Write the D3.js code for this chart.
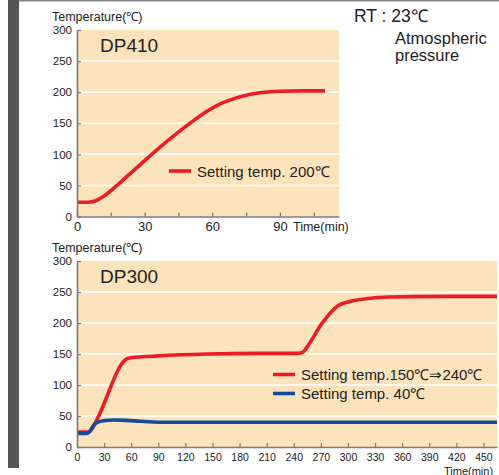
<!DOCTYPE html>
<html>
<head>
<meta charset="utf-8">
<script src="https://cdnjs.cloudflare.com/ajax/libs/d3/7.8.5/d3.min.js"></script>
<style>
  body { margin: 0; background: #fff; }
  svg { display: block; font-family: "Liberation Sans", Arial, sans-serif; }
  .tick line { stroke: #7a7a7a; stroke-width: 1.2; }
  .domain { stroke: #7a7a7a; stroke-width: 1.6; }
  .tick text { fill: #222; }
  .lbl { fill: #222; }
</style>
</head>
<body>
<script>
// DP410 – one run, setting 200 ℃
var time410 = [0, 5, 8, 12, 18, 30, 43, 52, 58, 64, 70, 76, 82, 90, 100, 110];
var temp410 = [23, 23, 25, 33, 51, 90, 130, 155, 170, 182, 190, 196, 199.5, 201.5, 202, 202];

// DP300 – red: 150 ℃ then 240 ℃, blue: 40 ℃
var timeRed = [0, 13, 16, 22, 55, 60, 90, 145, 200, 245, 250, 255, 271, 289, 300, 320, 345, 400, 465];
var tempRed = [24, 24, 28, 44, 142, 144, 147, 150, 151, 151, 153, 162, 199, 228, 234, 239, 242, 243, 243];
var timeBlue = [0, 11, 14, 18, 23, 30, 40, 55, 70, 90, 150, 465];
var tempBlue = [22, 22, 25, 34, 40, 42.5, 43.5, 43, 41.5, 40, 40, 40];

var yTicks = [0, 50, 100, 150, 200, 250, 300];
var xTicks410 = [0, 15, 30, 45, 60, 75, 90, 105];
var xTicks300 = [0, 30, 60, 90, 120, 150, 180, 210, 240, 270, 300, 330, 360, 390, 420, 450];

var legend410 = ["Setting temp. 200℃"];
var legend300 = ["Setting temp.150℃⇒240℃", "Setting temp. 40℃"];

var RED = "#ec1c24", BLUE = "#154a9a", BG = "#fde3bc";

var svg = d3.select("body").append("svg")
    .attr("width", 499)
    .attr("height", 475);

// frame bits
svg.append("rect").attr("x", 8).attr("y", 0).attr("width", 11).attr("height", 468).attr("fill", "#555");
svg.append("rect").attr("x", 19).attr("y", 0).attr("width", 480).attr("height", 1.5).attr("fill", "#888");

svg.append("text").attr("class", "lbl").attr("x", 354).attr("y", 22)
    .style("font-size", "17.5px").text("RT : 23℃");
svg.append("text").attr("class", "lbl").attr("x", 395).attr("y", 44)
    .style("font-size", "16.5px").text("Atmospheric");
svg.append("text").attr("class", "lbl").attr("x", 395).attr("y", 61)
    .style("font-size", "16.5px").text("pressure");

function drawPanel(opt) {
    var x = d3.scaleLinear().domain(opt.xDomain).range([opt.left, opt.right]);
    var y = d3.scaleLinear().domain([0, 300]).range([opt.bottom, opt.top]);
    var g = svg.append("g");

    g.append("rect")
        .attr("x", opt.left).attr("y", opt.top)
        .attr("width", opt.right - opt.left).attr("height", opt.bottom - opt.top)
        .attr("fill", BG);

    g.selectAll("line.grid").data(yTicks.filter(d => d > 0 && d < 300)).enter()
        .append("line").attr("class", "grid")
        .attr("x1", opt.left).attr("x2", opt.right)
        .attr("y1", d => y(d)).attr("y2", d => y(d))
        .attr("stroke", "#fff").attr("stroke-width", 1.5);

    var line = d3.line().x(d => x(d[0])).y(d => y(d[1])).curve(d3.curveMonotoneX);
    opt.series.forEach(function (s) {
        g.append("path")
            .datum(d3.zip(s.t, s.v))
            .attr("fill", "none")
            .attr("stroke", s.color)
            .attr("stroke-width", 3.6)
            .attr("stroke-linejoin", "round")
            .attr("d", line);
    });

    g.append("g")
        .attr("transform", "translate(" + opt.left + ",0)")
        .call(d3.axisLeft(y).tickValues(yTicks).tickSize(-4).tickSizeOuter(0).tickPadding(5))
        .call(a => a.selectAll("text").style("font-size", "11.5px"));

    g.append("g")
        .attr("transform", "translate(0," + opt.bottom + ")")
        .call(d3.axisBottom(x).tickValues(opt.xTicks).tickSize(-4).tickSizeOuter(0)
            .tickPadding(opt.xPad).tickFormat(opt.xFormat))
        .call(a => a.selectAll("text").style("font-size", opt.xFont));

    g.append("text").attr("class", "lbl").attr("x", 52).attr("y", opt.top - 9)
        .style("font-size", "12.5px").text("Temperature(℃)");
    g.append("text").attr("class", "lbl").attr("x", 100).attr("y", opt.top + 22)
        .style("font-size", "19px").text(opt.name);
    g.append("text").attr("class", "lbl")
        .attr("x", opt.timeX).attr("y", opt.timeY)
        .style("font-size", opt.timeFont).text("Time(min)");

    opt.legend.forEach(function (txt, i) {
        var ly = opt.legendY + i * opt.legendStep;
        g.append("line")
            .attr("x1", opt.legendX).attr("x2", opt.legendX + 22)
            .attr("y1", ly).attr("y2", ly)
            .attr("stroke", opt.series[i].color).attr("stroke-width", 3.6);
        g.append("text").attr("class", "lbl")
            .attr("x", opt.legendX + 28).attr("y", ly + 5.5)
            .style("font-size", opt.legendFont).text(txt);
    });
}

drawPanel({
    name: "DP410",
    left: 77, right: 339, top: 30, bottom: 216.5,
    xDomain: [0, 116.2],
    xTicks: xTicks410,
    xFormat: d => d % 30 === 0 && d < 100 ? d : "",
    xPad: 5, xFont: "13px",
    timeX: 293, timeY: 231, timeFont: "12.5px",
    series: [{ t: time410, v: temp410, color: RED }],
    legend: legend410, legendX: 169, legendY: 171, legendStep: 0, legendFont: "15px"
});

drawPanel({
    name: "DP300",
    left: 77, right: 497, top: 261, bottom: 447,
    xDomain: [0, 465],
    xTicks: xTicks300,
    xFormat: d => d,
    xPad: 6.5, xFont: "10.5px",
    timeX: 444, timeY: 474.5, timeFont: "11px",
    series: [{ t: timeRed, v: tempRed, color: RED }, { t: timeBlue, v: tempBlue, color: BLUE }],
    legend: legend300, legendX: 273, legendY: 374.5, legendStep: 19, legendFont: "15px"
});
</script>
</body>
</html>
